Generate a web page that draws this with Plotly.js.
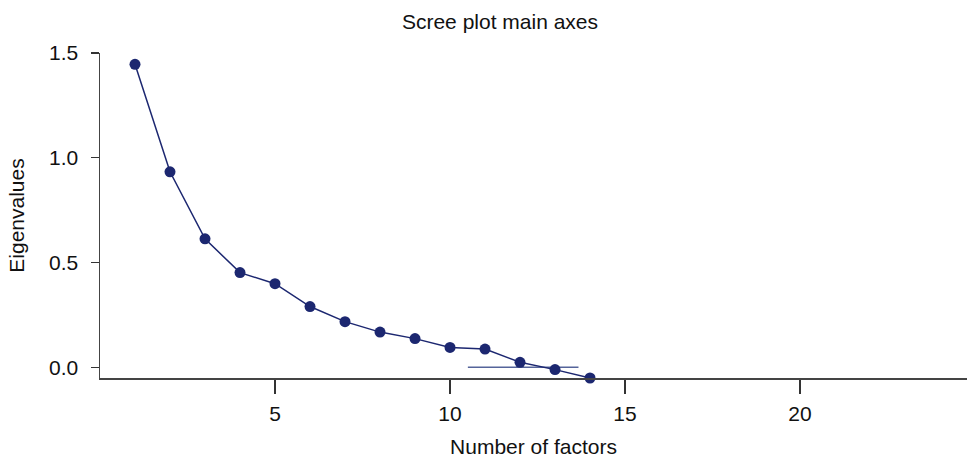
<!DOCTYPE html>
<html>
<head>
<meta charset="utf-8">
<script src="https://cdn.plot.ly/plotly-3.0.1.min.js"></script>
<style>html,body{margin:0;padding:0;background:#fff;}#chart{width:967px;height:458px;}</style>
</head>
<body>
<div id="chart"></div>
<script>
const factors = [1, 2, 3, 4, 5, 6, 7, 8, 9, 10, 11, 12, 13, 14];
const eigenvalues = [1.446, 0.933, 0.613, 0.452, 0.399, 0.290, 0.218, 0.168, 0.137, 0.095, 0.087, 0.024, -0.011, -0.051];
const refLineX = [10.51, 13.67];
const refLineY = [0, 0];
const xTicks = [5, 10, 15, 20];
const yTicks = [0, 0.5, 1.0, 1.5];
const yTickText = ['0.0', '0.5', '1.0', '1.5'];

const font = 'Liberation Sans, Arial, sans-serif';
const navy = '#1c2770';

const traces = [
  {
    x: refLineX, y: refLineY, type: 'scatter', mode: 'lines',
    line: {color: '#55649a', width: 1.6}, hoverinfo: 'skip', showlegend: false
  },
  {
    x: factors, y: eigenvalues, type: 'scatter', mode: 'lines+markers',
    line: {color: navy, width: 1.5},
    marker: {color: navy, size: 11},
    cliponaxis: false, showlegend: false
  }
];

const layout = {
  width: 967, height: 458,
  margin: {l: 100, r: 0, t: 53, b: 80},
  paper_bgcolor: '#ffffff', plot_bgcolor: '#ffffff',
  font: {family: font, size: 21, color: '#111'},
  title: {
    text: 'Scree plot main axes',
    font: {family: font, size: 21, color: '#111'},
    x: 500 / 967, xanchor: 'center', xref: 'container',
    y: 1 - 22 / 458, yanchor: 'middle', yref: 'container'
  },
  xaxis: {
    range: [0, 24.77], tickvals: xTicks, ticks: 'outside', ticklen: 14,
    tickwidth: 1.3, tickcolor: '#333', showline: true, linecolor: '#444', linewidth: 1.5,
    showgrid: false, zeroline: false, ticklabelstandoff: 2,
    tickfont: {family: font, size: 21, color: '#111'},
    title: {text: 'Number of factors', standoff: 23, font: {family: font, size: 21, color: '#111'}}
  },
  yaxis: {
    range: [-0.051, 1.5], tickvals: yTicks, ticktext: yTickText, ticks: 'outside', ticklen: 8,
    tickwidth: 1.3, tickcolor: '#333', showline: true, linecolor: '#444', linewidth: 1.5,
    showgrid: false, zeroline: false, ticklabelstandoff: 8,
    tickfont: {family: font, size: 21, color: '#111'},
    title: {text: 'Eigenvalues', standoff: 18, font: {family: font, size: 21, color: '#111'}}
  }
};

Plotly.newPlot('chart', traces, layout, {displayModeBar: false, staticPlot: true});
</script>
</body>
</html>
